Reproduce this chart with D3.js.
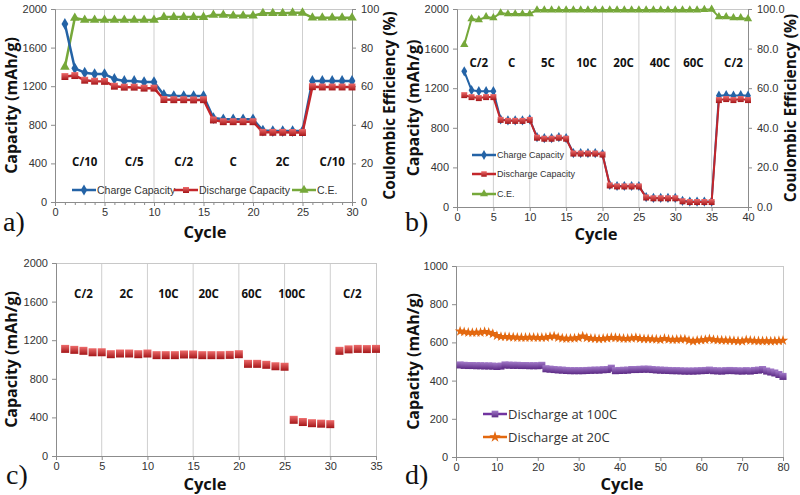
<!DOCTYPE html>
<html><head><meta charset="utf-8">
<script src="https://cdn.jsdelivr.net/npm/d3@7"></script>
<style>body{margin:0;background:#fff}svg{display:block}</style>
</head><body>
<svg id="c" width="800" height="495"></svg>
<script>
// ---------- DATA ----------
// Panel a
const aCycles = d3.range(1, 31);
const aCharge = [1845,1385,1340,1326,1326,1275,1254,1254,1243,1243,1109,1098,1098,1098,1098,870,857,857,857,857,740,735,735,735,735,1254,1254,1254,1254,1254];
const aDischarge = [1300,1310,1262,1252,1250,1200,1190,1190,1180,1180,1062,1060,1060,1058,1060,850,832,832,832,832,722,722,722,720,720,1195,1192,1192,1192,1192];
const aCE = [70,95.3,94.3,94.3,94.3,94.3,94.3,94.3,94.3,94.3,95.8,95.8,95.8,95.8,95.8,96.9,96.9,96.5,96.5,96.5,97.8,97.8,97.8,98,98,95.5,95.5,95.5,95.5,95.5];
const aRates = ["C/10","C/5","C/2","C","2C","C/10"];
const aRatePos = [3,8,13,18,23,28];
const aXTicks = [0,5,10,15,20,25,30];
const aYTicks = [0,400,800,1200,1600,2000];
const aY2Ticks = [0,20,40,60,80,100];

// Panel b
const bCycles = d3.range(1, 41);
const bCharge = [1370,1180,1170,1170,1170,885,875,875,875,885,705,695,695,705,695,545,545,545,545,535,222,212,212,212,212,100,92,92,92,92,62,55,55,55,55,1125,1130,1125,1130,1125];
const bDischarge = [1130,1110,1100,1110,1110,880,870,870,870,880,700,690,690,700,690,540,540,540,540,530,218,208,208,208,208,96,88,88,88,88,58,50,50,50,50,1080,1090,1080,1090,1080];
const bCE = [82,95,94.5,96,95.5,98,97.5,97.5,97.5,97.5,99.5,99.5,99.5,99.5,99.5,99.5,99.5,99.5,99.5,99.5,99.5,99.5,99.5,99.5,99.5,99.5,99.5,99.5,99.5,99.5,99.5,99.5,99.5,99.7,99.8,96,96,95.5,95.5,95];
const bRates = ["C/2","C","5C","10C","20C","40C","60C","C/2"];
const bRatePos = [3,7.5,12.5,17.8,22.9,27.9,32.5,38];
const bXTicks = [0,5,10,15,20,25,30,35,40];
const bYTicks = [0,400,800,1200,1600,2000];
const bY2Ticks = [0,20,40,60,80,100];

// Panel c
const cCycles = d3.range(1, 36);
const cDischarge = [1110,1100,1090,1075,1075,1055,1062,1062,1055,1062,1045,1045,1045,1052,1052,1045,1045,1045,1048,1055,955,955,945,930,925,375,352,340,335,330,1090,1105,1110,1108,1110];
const cRates = ["C/2","2C","10C","20C","60C","100C","C/2"];
const cRatePos = [3,7.7,12.3,16.7,21.4,25.8,32.4];
const cXTicks = [0,5,10,15,20,25,30,35];
const cYTicks = [0,400,800,1200,1600,2000];

// Panel d
const dCycles = d3.range(1, 81);
const d100C = [482,480,479,479,478,478,477,477,476,474,476,482,481,480,480,479,479,478,478,478,480,462,460,458,456,455,453,452,452,452,452,453,454,455,455,457,458,465,452,453,454,455,458,458,459,460,460,458,456,455,454,453,452,452,451,450,450,450,451,452,453,455,452,451,450,452,453,452,451,450,452,450,453,455,458,450,445,440,432,422];
const d20C = [658,655,652,651,652,652,656,652,645,635,630,630,628,627,626,625,625,626,626,625,625,626,630,632,626,622,620,621,622,624,632,624,621,620,618,620,622,625,624,622,620,620,622,624,620,618,618,617,616,614,620,616,614,615,616,617,610,606,610,612,614,618,614,612,611,610,610,609,607,606,612,610,608,607,607,607,606,607,608,610];
const dXTicks = [0,10,20,30,40,50,60,70,80];
const dYTicks = [0,200,400,600,800,1000];

// ---------- DRAW ----------
const svg = d3.select("#c");
const FONT = "'Liberation Sans', Arial, sans-serif";
const TFONT = "'Open Sans', 'Liberation Sans', sans-serif";
const AX = "#8c8c8c", TXT = "#333";
const BLUE = "#2463a6", RED = "#c3262b", GREEN = "#76a83a", PURPLE = "#7134a0", ORANGE = "#e3680f";

const defs = svg.append("defs");
function grad(id, light, dark){
  const g = defs.append("linearGradient").attr("id", id).attr("x1",0).attr("y1",0).attr("x2",0).attr("y2",1);
  g.append("stop").attr("offset","0%").attr("stop-color", light);
  g.append("stop").attr("offset","100%").attr("stop-color", dark);
}
grad("gRed", "#ee6b6b", "#a31518");
grad("gPur", "#a27ac8", "#5c2a85");

function panel(o){
  const g = svg.append("g");
  const x = d3.scaleLinear().domain(o.xd).range([o.px0, o.px1]);
  const y = d3.scaleLinear().domain(o.yd).range([o.py1, o.py0]);
  if (o.grid) {
    g.selectAll(".gr").data(o.grid).join("line")
      .attr("x1", d=>x(d)).attr("x2", d=>x(d)).attr("y1", o.py0).attr("y2", o.py1)
      .attr("stroke", "#cfcfcf").attr("stroke-width", 1);
  }
  g.append("line").attr("x1", o.px0).attr("x2", o.px1).attr("y1", o.py0+0.5).attr("y2", o.py0+0.5).attr("stroke","#c8c8c8");
  if (!o.y2) g.append("line").attr("x1", o.px1+0.5).attr("x2", o.px1+0.5).attr("y1", o.py0).attr("y2", o.py1).attr("stroke","#c8c8c8");
  g.append("g").attr("transform", `translate(${o.px0},0)`)
    .call(d3.axisLeft(y).tickValues(o.yt).tickSize(4).tickPadding(4).tickFormat(d3.format("d")));
  g.append("g").attr("transform", `translate(0,${o.py1})`)
    .call(d3.axisBottom(x).tickValues(o.xt).tickSize(4).tickPadding(2).tickFormat(d3.format("d")));
  if (o.minor) {
    g.append("g").attr("transform", `translate(0,${o.py1})`)
      .call(d3.axisBottom(x).tickValues(o.minor).tickSize(3).tickFormat(""))
      .call(s=>s.select(".domain").remove());
  }
  let y2 = null;
  if (o.y2) {
    y2 = d3.scaleLinear().domain([0,100]).range([o.py1, o.py0]);
    g.append("g").attr("transform", `translate(${o.px1},0)`)
      .call(d3.axisRight(y2).tickValues(o.y2t).tickSize(4).tickPadding(5).tickFormat(o.y2f));
  }
  g.selectAll(".domain").attr("stroke", AX);
  g.selectAll(".tick line").attr("stroke", AX);
  g.selectAll(".tick text").attr("fill", TXT).style("font-family", FONT).style("font-size", "11px");
  g.append("text").attr("transform", `translate(${o.ytx},${(o.py0+o.py1)/2}) rotate(-90)`)
    .attr("text-anchor","middle").attr("dominant-baseline","central")
    .style("font-family", TFONT).style("font-weight","700").style("font-size", "16px").attr("fill","#111")
    .text("Capacity (mAh/g)");
  if (o.y2) {
    g.append("text").attr("transform", `translate(${o.y2tx},${(o.py0+o.py1)/2}) rotate(-90)`)
      .attr("text-anchor","middle").attr("dominant-baseline","central")
      .style("font-family", TFONT).style("font-weight","700").style("font-size", "15.5px").attr("fill","#111")
      .text("Coulombic Efficiency (%)");
  }
  g.append("text").attr("x", o.ctx).attr("y", o.cty).attr("text-anchor","middle")
    .style("font-family", TFONT).style("font-weight","700").style("font-size","16.5px").attr("fill","#111").text("Cycle");
  g.append("text").attr("x", o.lx).attr("y", o.ly)
    .style("font-family", "'Liberation Serif','DejaVu Serif',serif").style("font-size","28px").attr("fill","#111").text(o.letter);
  if (o.rates) {
    g.selectAll(".rate").data(o.rates).join("text")
      .attr("x", (d,i)=>x(o.ratePos[i])).attr("y", o.rateY).attr("text-anchor","middle")
      .style("font-family", TFONT).style("font-weight","700").style("font-size","11.5px").attr("fill","#111").text(d=>d);
  }
  return {g, x, y, y2};
}

function series(p, xs, vals, yscale, color, sym, size, lw, fillId, noLine){
  const pts = xs.map((c,i)=>[c, vals[i]]);
  if (!noLine) {
    p.g.append("path").datum(pts)
      .attr("d", d3.line().x(d=>p.x(d[0])).y(d=>yscale(d[1])))
      .attr("fill","none").attr("stroke", color).attr("stroke-width", lw).attr("stroke-linejoin","round");
  }
  p.g.selectAll(null).data(pts).join("path")
    .attr("transform", d=>`translate(${p.x(d[0])},${yscale(d[1])})`)
    .attr("d", d3.symbol().type(sym).size(size))
    .attr("fill", fillId ? `url(#${fillId})` : color);
}

function legendH(g, items, y){
  items.forEach(it=>{
    const L = it.len || 24;
    g.append("line").attr("x1", it.x).attr("x2", it.x+L).attr("y1", y).attr("y2", y).attr("stroke", it.c).attr("stroke-width", 2.5);
    g.append("path").attr("transform", `translate(${it.x+L/2},${y})`).attr("d", d3.symbol().type(it.s).size(it.sz||36)).attr("fill", it.f||it.c);
    g.append("text").attr("x", it.x+L+1).attr("y", y).attr("dominant-baseline","central")
      .style("font-family", it.ff||FONT).style("font-size", it.fs||"11px").attr("fill", TXT).text(it.t);
  });
}

// ---- Panel a ----
const pa = panel({px0:55, px1:352, py0:9, py1:202, xd:[0,30], yd:[0,2000], xt:aXTicks, yt:aYTicks,
  minor:d3.range(1,30).filter(v=>v%5!==0), grid:[5,10,15,20,25], y2:true, y2t:aY2Ticks, y2f:d3.format("d"),
  ytx:11, y2tx:389, ctx:205, cty:238, lx:3, ly:231, letter:"a)", rates:aRates, ratePos:aRatePos, rateY:166});
series(pa, aCycles, aCE, pa.y2, GREEN, d3.symbolTriangle, 40, 2.5);
series(pa, aCycles, aCharge, pa.y, BLUE, d3.symbolDiamond, 40, 2.5);
series(pa, aCycles, aDischarge, pa.y, RED, d3.symbolSquare, 48, 2.5, "gRed");
legendH(pa.g, [
  {x:72, c:BLUE, s:d3.symbolDiamond, t:"Charge Capacity", fs:"10.5px"},
  {x:174, c:RED, s:d3.symbolSquare, t:"Discharge Capacity", f:"url(#gRed)", fs:"10.5px"},
  {x:292, c:GREEN, s:d3.symbolTriangle, t:"C.E.", fs:"10.5px"}
], 190);

// ---- Panel b ----
const pb = panel({px0:457, px1:748, py0:9, py1:207, xd:[0,40], yd:[0,2000], xt:bXTicks, yt:bYTicks,
  grid:[5,10,15,20,25,30,35], y2:true, y2t:bY2Ticks, y2f:d3.format(".1f"),
  ytx:413, y2tx:790, ctx:596, cty:240, lx:405, ly:231, letter:"b)", rates:bRates, ratePos:bRatePos, rateY:67});
series(pb, bCycles, bCE, pb.y2, GREEN, d3.symbolTriangle, 30, 2);
series(pb, bCycles, bCharge, pb.y, BLUE, d3.symbolDiamond, 30, 2);
series(pb, bCycles, bDischarge, pb.y, RED, d3.symbolSquare, 36, 2, "gRed");
legendH(pb.g, [{x:472, c:BLUE, s:d3.symbolDiamond, t:"Charge Capacity", fs:"9px", sz:28}], 155);
legendH(pb.g, [{x:472, c:RED, s:d3.symbolSquare, t:"Discharge Capacity", f:"url(#gRed)", fs:"9px", sz:30}], 174);
legendH(pb.g, [{x:472, c:GREEN, s:d3.symbolTriangle, t:"C.E.", fs:"9px", sz:28}], 194);

// ---- Panel c ----
const pc = panel({px0:56, px1:376, py0:263, py1:456, xd:[0,35], yd:[0,2000], xt:cXTicks, yt:cYTicks,
  grid:[5,10,15,20,25,30], ytx:11, ctx:205, cty:490, lx:6, ly:484, letter:"c)",
  rates:cRates, ratePos:cRatePos, rateY:298});
series(pc, cCycles, cDischarge, pc.y, RED, d3.symbolSquare, 64, 0, "gRed", true);

// ---- Panel d ----
const pd = panel({px0:456, px1:783, py0:266, py1:457, xd:[0,80], yd:[0,1000], xt:dXTicks, yt:dYTicks,
  ytx:413, ctx:622, cty:490, lx:405, ly:484, letter:"d)"});
series(pd, dCycles, d20C, pd.y, ORANGE, d3.symbolStar, 34, 2);
series(pd, dCycles, d100C, pd.y, PURPLE, d3.symbolSquare, 50, 2, "gPur");
legendH(pd.g, [{x:483, c:PURPLE, s:d3.symbolSquare, t:"Discharge at 100C", f:"url(#gPur)", fs:"13px", sz:45, ff:TFONT}], 414);
legendH(pd.g, [{x:483, c:ORANGE, s:d3.symbolStar, t:"Discharge at 20C", fs:"13px", sz:40, ff:TFONT}], 437);
</script>
</body></html>
